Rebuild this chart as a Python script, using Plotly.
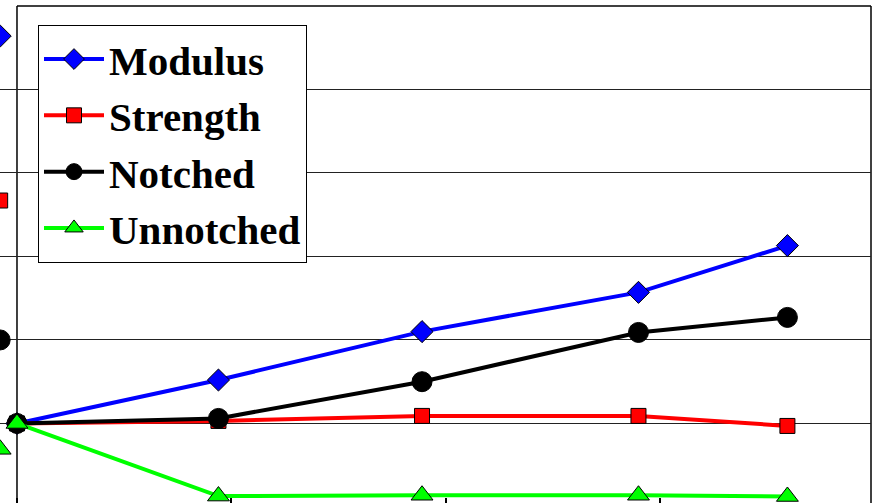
import plotly.graph_objects as go

# ---- data ----
x_vals = [0, 9.4, 18.9, 29.0, 35.95]
modulus = [1.000, 1.052, 1.110, 1.157, 1.213]
strength = [1.000, 1.003, 1.009, 1.009, 0.997]
notched = [1.000, 1.006, 1.050, 1.109, 1.127]
unnotched = [1.000, 0.913, 0.914, 0.914, 0.9125]

# markers of the neighbouring panel visible at the left edge
edge_x = [-0.785]
edge_modulus = [1.464]
edge_strength = [1.267]
edge_notched = [1.100]
edge_unnotched = [0.969]

x_range = [-0.793, 39.85]
y_range = [0.9047, 1.5]

series = [
    ("Modulus", modulus, edge_modulus, "#0000FF", "diamond", 17),
    ("Strength", strength, edge_strength, "#FF0000", "square", 15),
    ("Notched", notched, edge_notched, "#000000", "circle", 20),
    ("Unnotched", unnotched, edge_unnotched, "#00FF00", "triangle-up", 19),
]

fig = go.Figure()
for name, vals, evals, color, sym, size in series:
    fig.add_trace(go.Scatter(
        x=x_vals, y=vals, name=name, mode="lines+markers",
        line=dict(color=color, width=4),
        marker=dict(symbol=sym, size=size, color=color,
                    line=dict(color="black", width=1)),
        cliponaxis=False,
    ))
for name, vals, evals, color, sym, size in series:
    fig.add_trace(go.Scatter(
        x=edge_x, y=evals, mode="markers", showlegend=False,
        marker=dict(symbol=sym, size=size, color=color,
                    line=dict(color="black", width=1)),
        cliponaxis=False, hoverinfo="skip",
    ))

border = dict(color="black", width=1.5)
fig.update_layout(
    width=875, height=503,
    margin=dict(l=0, r=4, t=6, b=0, pad=0),
    plot_bgcolor="white", paper_bgcolor="white",
    showlegend=True,
    legend=dict(
        x=38 / 871, y=0.962, xanchor="left", yanchor="top",
        bgcolor="white", bordercolor="black", borderwidth=1,
        font=dict(family="Liberation Serif, Times New Roman, serif",
                  size=41, color="black", weight="bold"),
        itemwidth=60, tracegroupgap=0,
    ),
    xaxis=dict(range=x_range, dtick=10, tick0=0, showgrid=False,
               zeroline=False, showline=False, ticks="inside", ticklen=5,
               tickcolor="black", tickwidth=1.5, showticklabels=False),
    yaxis=dict(range=y_range, dtick=0.1, tick0=1.0, showgrid=True,
               gridcolor="#222222", gridwidth=1.3, zeroline=False,
               showline=False, ticks="", showticklabels=False),
    shapes=[
        # blank strip left of the value axis (hides gridlines there)
        dict(type="rect", xref="x", yref="paper", x0=x_range[0], x1=0,
             y0=0, y1=1, fillcolor="white", line=dict(width=0),
             layer="between"),
        # value axis line
        dict(type="line", xref="x", yref="paper", x0=0, x1=0, y0=0, y1=1,
             line=border, layer="between"),
        # top and right frame
        dict(type="line", xref="x", yref="paper", x0=0, x1=x_range[1],
             y0=1, y1=1, line=border, layer="between"),
        dict(type="line", xref="paper", yref="paper", x0=1, x1=1,
             y0=0, y1=1, line=border, layer="between"),
    ],
)

fig.write_html(
    "out.html",
    config={"displayModeBar": False},
    post_script="document.body.style.margin='0';"
                "document.documentElement.style.overflow='hidden';",
)
